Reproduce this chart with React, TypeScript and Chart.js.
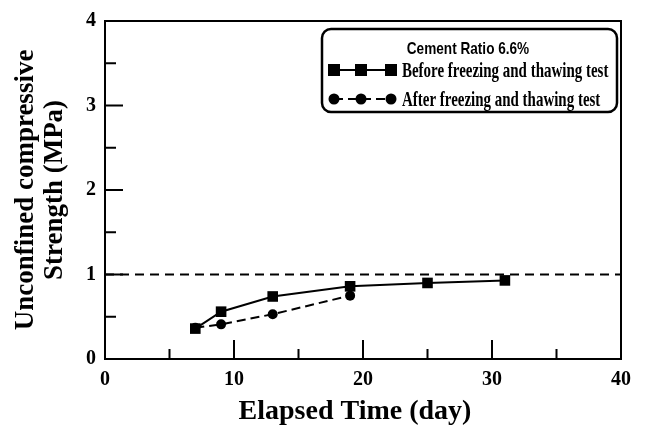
import React, { useEffect, useRef } from "react";
import { Chart, registerables } from "chart.js";

Chart.register(...registerables);

const LEGEND_TITLE = "Cement Ratio 6.6%";
const SERIES_NAMES = ["Before freezing and thawing test", "After freezing and thawing test"];
const BEFORE_DAYS = [7, 9, 13, 19, 25, 31];
const BEFORE_VALUES = [0.36, 0.56, 0.74, 0.86, 0.9, 0.93];
const AFTER_DAYS = [7, 9, 13, 19];
const AFTER_VALUES = [0.37, 0.41, 0.53, 0.75];
const REF_VALUE = 1;
const X_MIN = 0;
const X_MAX = 40;
const X_MAJOR = [0, 10, 20, 30, 40];
const X_MINOR = [5, 15, 25, 35];
const Y_MIN = 0;
const Y_MAX = 4;
const Y_MAJOR = [0, 1, 2, 3, 4];
const Y_MINOR = [0.5, 1.5, 2.5, 3.5];
const X_TITLE = "Elapsed Time (day)";
const Y_TITLE = ["Unconfined compressive", "Strength (MPa)"];

const SERIF = "'Liberation Serif', 'Times New Roman', serif";
const SANS = "'Liberation Sans', Arial, sans-serif";

const framePlugin = {
  id: "frameTicks",
  beforeDatasetsDraw(chart: any) {
    const { ctx, chartArea, scales } = chart;
    const { left, right, top, bottom } = chartArea;
    ctx.save();
    ctx.strokeStyle = "#000";
    ctx.lineWidth = 2;
    ctx.beginPath();
    ctx.rect(left, top, right - left, bottom - top);
    ctx.stroke();
    ctx.beginPath();
    for (const v of X_MAJOR) {
      const px = scales.x.getPixelForValue(v);
      ctx.moveTo(px, bottom);
      ctx.lineTo(px, bottom - 19);
    }
    for (const v of X_MINOR) {
      const px = scales.x.getPixelForValue(v);
      ctx.moveTo(px, bottom);
      ctx.lineTo(px, bottom - 10);
    }
    for (const v of Y_MAJOR) {
      const py = scales.y.getPixelForValue(v);
      ctx.moveTo(left, py);
      ctx.lineTo(left + 18, py);
    }
    for (const v of Y_MINOR) {
      const py = scales.y.getPixelForValue(v);
      ctx.moveTo(left, py);
      ctx.lineTo(left + 11, py);
    }
    ctx.stroke();
    ctx.restore();
  },
};

function roundRect(ctx: CanvasRenderingContext2D, x: number, y: number, w: number, h: number, r: number) {
  ctx.beginPath();
  ctx.moveTo(x + r, y);
  ctx.lineTo(x + w - r, y);
  ctx.arcTo(x + w, y, x + w, y + r, r);
  ctx.lineTo(x + w, y + h - r);
  ctx.arcTo(x + w, y + h, x + w - r, y + h, r);
  ctx.lineTo(x + r, y + h);
  ctx.arcTo(x, y + h, x, y + h - r, r);
  ctx.lineTo(x, y + r);
  ctx.arcTo(x, y, x + r, y, r);
  ctx.closePath();
}

const xTitlePlugin = {
  id: "xTitle",
  afterDraw(chart: any) {
    const { ctx, chartArea } = chart;
    ctx.save();
    ctx.fillStyle = "#000";
    ctx.textAlign = "center";
    ctx.textBaseline = "middle";
    ctx.font = `bold 28px ${SERIF}`;
    ctx.fillText(X_TITLE, (chartArea.left + chartArea.right) / 2 - 8, chartArea.bottom + 53);
    ctx.restore();
  },
};

const legendPlugin = {
  id: "customLegend",
  afterDraw(chart: any) {
    const { ctx, chartArea } = chart;
    const bx = chartArea.right - 299;
    const by = chartArea.top + 8;
    const bw = 295;
    const bh = 83;
    ctx.save();
    ctx.fillStyle = "#fff";
    ctx.strokeStyle = "#000";
    ctx.lineWidth = 2.5;
    roundRect(ctx, bx, by, bw, bh, 9);
    ctx.fill();
    ctx.stroke();

    ctx.fillStyle = "#000";
    ctx.textBaseline = "middle";
    ctx.textAlign = "center";
    ctx.save();
    ctx.translate(bx + 146, by + 20);
    ctx.scale(0.8, 1);
    ctx.font = `bold 17px ${SANS}`;
    ctx.fillText(LEGEND_TITLE, 0, 0);
    ctx.restore();

    const rows = [by + 41, by + 70];
    const sx = [bx + 12, bx + 39, bx + 69];
    ctx.lineWidth = 2;
    ctx.setLineDash([]);
    ctx.beginPath();
    ctx.moveTo(sx[0], rows[0]);
    ctx.lineTo(sx[2], rows[0]);
    ctx.stroke();
    for (const x of sx) ctx.fillRect(x - 6, rows[0] - 6, 12, 12);
    ctx.setLineDash([9, 5]);
    ctx.beginPath();
    ctx.moveTo(sx[0], rows[1]);
    ctx.lineTo(sx[2], rows[1]);
    ctx.stroke();
    ctx.setLineDash([]);
    for (const x of sx) {
      ctx.beginPath();
      ctx.arc(x, rows[1], 5.5, 0, Math.PI * 2);
      ctx.fill();
    }

    ctx.textAlign = "left";
    SERIES_NAMES.forEach((name, i) => {
      ctx.save();
      ctx.translate(bx + 80, rows[i] + 1);
      ctx.scale(0.68, 1);
      ctx.font = `bold 22px ${SERIF}`;
      ctx.fillText(name, 0, 0);
      ctx.restore();
    });
    ctx.restore();
  },
};

export default function App() {
  const ref = useRef<HTMLCanvasElement | null>(null);

  useEffect(() => {
    document.body.style.margin = "0";
    const canvas = ref.current;
    if (!canvas) return;
    const chart = new Chart(canvas, {
      type: "line",
      data: {
        datasets: [
          {
            label: "ref",
            data: [
              { x: X_MIN, y: REF_VALUE },
              { x: X_MAX, y: REF_VALUE },
            ],
            borderColor: "#000",
            borderWidth: 2,
            borderDash: [9, 6],
            pointRadius: 0,
            fill: false,
          },
          {
            label: SERIES_NAMES[1],
            data: AFTER_DAYS.map((d, i) => ({ x: d, y: AFTER_VALUES[i] })),
            borderColor: "#000",
            backgroundColor: "#000",
            borderWidth: 2,
            borderDash: [9, 5],
            pointStyle: "circle",
            pointRadius: 5,
            pointBorderWidth: 0,
            fill: false,
          },
          {
            label: SERIES_NAMES[0],
            data: BEFORE_DAYS.map((d, i) => ({ x: d, y: BEFORE_VALUES[i] })),
            borderColor: "#000",
            backgroundColor: "#000",
            borderWidth: 2,
            pointStyle: "rect",
            pointRadius: 7.5,
            pointBorderWidth: 0,
            fill: false,
          },
        ],
      },
      options: {
        animation: false,
        responsive: false,
        devicePixelRatio: 1,
        layout: { padding: { top: 14, right: 24, left: 0, bottom: 0 } },
        plugins: { legend: { display: false }, tooltip: { enabled: false } },
        scales: {
          x: {
            type: "linear",
            min: X_MIN,
            max: X_MAX,
            grid: { display: false, drawTicks: false },
            border: { display: false },
            ticks: {
              stepSize: 10,
              padding: 9,
              color: "#000",
              font: { family: SERIF, size: 20, weight: "bold" },
            },
            title: { display: false },
            afterFit(scale: any) {
              scale.height = 73;
            },
          },
          y: {
            type: "linear",
            min: Y_MIN,
            max: Y_MAX,
            grid: { display: false, drawTicks: false },
            border: { display: false },
            ticks: {
              stepSize: 1,
              padding: 9,
              color: "#000",
              font: { family: SERIF, size: 20, weight: "bold" },
            },
            title: {
              display: true,
              text: Y_TITLE,
              color: "#000",
              font: { family: SERIF, size: 27, weight: "bold", lineHeight: 1.08 },
              padding: { top: 11, bottom: 0 },
            },
            afterFit(scale: any) {
              scale.width = 105;
            },
          },
        },
      },
      plugins: [framePlugin, legendPlugin, xTitlePlugin],
    } as any);
    return () => chart.destroy();
  }, []);

  return (
    <div style={{ width: 645, height: 432 }}>
      <canvas ref={ref} width={645} height={432} style={{ display: "block" }} />
    </div>
  );
}
